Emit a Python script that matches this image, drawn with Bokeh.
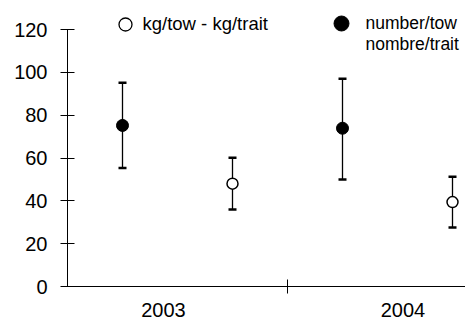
from bokeh.plotting import figure
from bokeh.models import Range1d, FixedTicker, Whisker, TeeHead, ColumnDataSource, Label
from bokeh.embed import file_html
from bokeh.resources import INLINE

# ---- data ----
years = ["2003", "2004"]
number_mean = [75.2, 73.9]
number_low = [55.3, 50.0]
number_high = [95.1, 97.0]
kg_mean = [48.0, 39.4]
kg_low = [36.0, 27.5]
kg_high = [60.1, 51.2]
y_ticks = [0, 20, 40, 60, 80, 100, 120]
legend_kg = "kg/tow - kg/trait"
legend_num = ["number/tow", "nombre/trait"]

# ---- layout ----
W, H = 465, 320
left, bottom_px = 67, 34
px_per_x = 220.0
frame_h = H - bottom_px
px_per_y = (286 - 29) / 120.0
x_end = (W - left) / px_per_x
y_end = frame_h / px_per_y

FONT = "Liberation Sans"

p = figure(width=W, height=H, output_backend="svg", toolbar_location=None,
           x_range=Range1d(0, x_end), y_range=Range1d(0, y_end),
           min_border_left=left, min_border_right=0, min_border_top=0,
           min_border_bottom=bottom_px)
p.outline_line_color = None
p.grid.grid_line_color = None
p.background_fill_color = "white"
p.border_fill_color = "white"

idx = list(range(len(years)))
x_num = [i + 0.25 for i in idx]
x_kg = [i + 0.75 for i in idx]

src_num = ColumnDataSource(dict(x=x_num, y=number_mean, lo=number_low, hi=number_high))
src_kg = ColumnDataSource(dict(x=x_kg, y=kg_mean, lo=kg_low, hi=kg_high))

for src in (src_num, src_kg):
    w = Whisker(source=src, base="x", lower="lo", upper="hi", dimension="height",
                line_color="black", line_width=1.3,
                upper_head=TeeHead(size=8, line_width=2.5, line_color="black"),
                lower_head=TeeHead(size=8, line_width=2.5, line_color="black"))
    p.add_layout(w)

p.scatter("x", "y", source=src_num, size=12, fill_color="black", line_color="black")
p.scatter("x", "y", source=src_kg, size=11, fill_color="white", line_color="black", line_width=1.5)

# legend (custom)
def dx(px):
    return (px - left) / px_per_x

def dy(py):
    return (frame_h - py) / px_per_y

p.scatter([dx(125)], [dy(24)], size=13, fill_color="white", line_color="black", line_width=1.3)
p.scatter([dx(341)], [dy(23)], size=15, fill_color="black", line_color="black")
p.add_layout(Label(x=142 - left, y=frame_h - 23, x_units="screen", y_units="screen", text=legend_kg,
                   text_font=FONT, text_font_size="18.5px", text_baseline="middle", text_color="black"))
p.add_layout(Label(x=365 - left, y=frame_h - 22, x_units="screen", y_units="screen", text=legend_num[0],
                   text_font=FONT, text_font_size="17.5px", text_baseline="middle", text_color="black"))
p.add_layout(Label(x=365 - left, y=frame_h - 43, x_units="screen", y_units="screen", text=legend_num[1],
                   text_font=FONT, text_font_size="17.5px", text_baseline="middle", text_color="black"))

# y axis
ya = p.yaxis[0]
ya.ticker = FixedTicker(ticks=y_ticks)
ya.bounds = (0, 120)
ya.major_tick_in = 7
ya.major_tick_out = 7
ya.minor_tick_line_color = None
ya.axis_line_color = "black"
ya.major_tick_line_color = "black"
ya.major_label_text_font = FONT
ya.major_label_text_font_size = "20px"
ya.major_label_text_color = "black"
ya.major_label_standoff = 13

# x axis
xa = p.xaxis[0]
label_pos = [0.436, 1.525]
xa.ticker = FixedTicker(ticks=label_pos, minor_ticks=[1.0])
xa.major_label_overrides = {lp: y for lp, y in zip(label_pos, years)}
xa.bounds = (0, x_end)
xa.major_tick_in = 0
xa.major_tick_out = 0
xa.minor_tick_in = 7
xa.minor_tick_out = 7
xa.minor_tick_line_color = "black"
xa.axis_line_color = "black"
xa.major_label_text_font = FONT
xa.major_label_text_font_size = "20px"
xa.major_label_text_color = "black"
xa.major_label_standoff = 9

open("out.html", "w").write(file_html(p, INLINE))
